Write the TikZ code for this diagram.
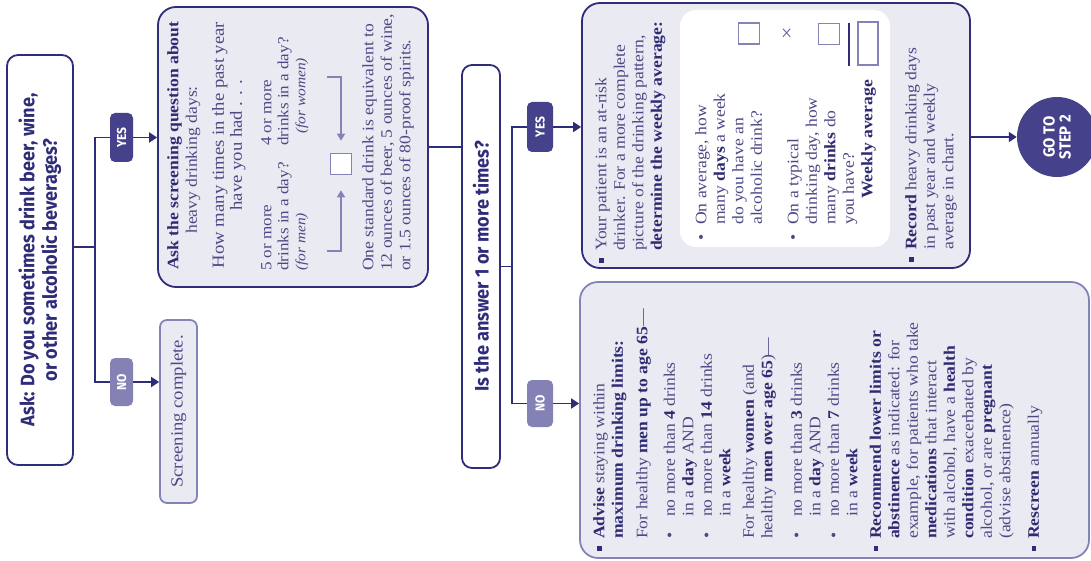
\documentclass[tikz,border=0pt]{standalone}
\usepackage{fontspec}
\setmainfont[FakeStretch=1.1]{Liberation Serif}
\newfontfamily\headfont[FakeStretch=0.93]{Fira Sans}
\usetikzlibrary{arrows.meta,positioning}

\definecolor{navy}{HTML}{2F2C7A}
\definecolor{yesfill}{HTML}{45418A}
\definecolor{nofill}{HTML}{8482B5}
\definecolor{lavender}{HTML}{EAEAF3}
\definecolor{softline}{HTML}{8483B8}
\definecolor{bodyink}{HTML}{4B4985}
\definecolor{boldink}{HTML}{2E2B72}

\newcommand{\bodysize}{\fontsize{16}{18.5}\selectfont}
\newcommand{\hl}[1]{{\bfseries\color{boldink}#1}}
\newcommand{\sqbul}{\makebox[12pt][l]{\color{navy}\rule[2.5pt]{4.5pt}{4.5pt}}}
\newcommand{\dotbul}[1]{\makebox[#1][l]{\textbullet}}
\newcommand{\ind}[1]{\hspace*{#1}}

\begin{document}
\begin{tikzpicture}[x=1pt, y=-1pt,
  every node/.style={rotate=90},
  flowline/.style={draw=navy, line width=1.8pt},
  flowarrow/.style={flowline, -{Triangle[length=8pt,width=10pt]}},
  softarrow/.style={draw=softline, line width=1.6pt, -{Triangle[length=7pt,width=8pt]}},
  question/.style={draw=navy, line width=1.8pt, fill=white, rounded corners=11pt,
    text=navy, align=center, inner sep=0pt},
  panel/.style={draw=navy, line width=1.8pt, fill=lavender, rounded corners=18pt, inner sep=0pt},
  softpanel/.style={panel, draw=softline},
  badge/.style={rounded corners=5pt, inner sep=0pt, text=white,
    font=\headfont\bfseries\fontsize{13}{13}\selectfont},
  copy/.style={inner sep=0pt, align=left, anchor=north west, text=bodyink, font=\bodysize},
  tally/.style={draw=softline, line width=1.6pt, fill=white, minimum width=21pt,
    minimum height=21pt, inner sep=0pt}
]
\useasboundingbox (0,0) rectangle (1091,561);

% boxes
\node[question, minimum width=410pt, minimum height=66pt,
  font=\headfont\bfseries\fontsize{19.5}{22.5}\selectfont] (ask) at (40,260)
  {Ask: Do you sometimes drink beer, wine,\\ or other alcoholic beverages?};
\node[panel, minimum width=280pt, minimum height=270pt] (heavy) at (293,147) {};
\node[softpanel, rounded corners=7pt, minimum width=183pt, minimum height=37pt,
  text=bodyink, font=\fontsize{17}{18}\selectfont] (done) at (178.5,411.5) {Screening complete.};
\node[question, rounded corners=10pt, minimum width=403pt, minimum height=38pt,
  font=\headfont\bfseries\fontsize{19.5}{22.5}\selectfont] (again) at (481,266.5)
  {Is the answer 1 or more times?};
\node[panel, minimum width=265pt, minimum height=388pt] (atrisk) at (776,135.5) {};
\node[softpanel, minimum width=276pt, minimum height=509pt] (limits) at (834.5,420) {};
\node[circle, fill=yesfill, minimum size=80pt, inner sep=0pt, text=white, align=center,
  font=\headfont\bfseries\fontsize{16}{16}\selectfont] (step) at (1057,137) {GO TO\\STEP 2};

% connectors
\coordinate (forkA) at (95,247);
\coordinate (yesA) at (121.5,137.5);
\coordinate (noA) at (121.5,382);
\coordinate (forkD) at (512,266.5);
\coordinate (yesD) at (540,127);
\coordinate (noD) at (540,403.5);

\draw[flowline] ([yshift=13pt]ask.south) -- (forkA);
\draw[flowarrow] (forkA) |- (heavy.north |- yesA);
\draw[flowarrow] (forkA) |- (done.north |- noA);
\draw[flowline] (heavy.south) -- (heavy.south -| again.north);
\draw[flowline] (again.south) -- (forkD);
\draw[flowarrow] (forkD) |- (atrisk.north |- yesD);
\draw[flowarrow] (forkD) |- (limits.north |- noD);
\draw[flowarrow] (atrisk.south |- step) -- (step.north);

\node[badge, fill=yesfill, minimum width=49pt, minimum height=23pt] (yesAbadge) at (yesA) {YES};
\node[badge, fill=nofill, minimum width=48pt, minimum height=23pt] (noAbadge) at (noA) {NO};
\node[badge, fill=yesfill, minimum width=50pt, minimum height=26pt] (yesDbadge) at (yesD) {YES};
\node[badge, fill=nofill, minimum width=47pt, minimum height=26pt] (noDbadge) at (noD) {NO};

% heavy drinking question
\node[copy] (heavyhead) at (167,270)
  {\hl{Ask the screening question about}\\ \ind{36pt}heavy drinking days:};
\node[copy, anchor=north, align=center, font=\fontsize{17}{18}\selectfont] (heavyq) at (212,145)
  {How many times in the past year\\ have you had . . .};
\node[copy, font=\fontsize{15.5}{17}\selectfont] (menq) at (261,271)
  {5 or more\\ drinks in a day?\\ {\itshape\fontsize{14}{16}\selectfont (for men)}};
\node[copy, font=\fontsize{15.5}{17}\selectfont] (womenq) at (261,146)
  {4 or more\\ drinks in a day?\\ \ind{12pt}{\itshape\fontsize{14}{16}\selectfont (for women)}};
\node[tally] (heavycount) at (341,164) {};
\coordinate (menfrom) at (327,251);
\coordinate (womenfrom) at (327,77);
\draw[softarrow, shorten >=15pt] (menfrom) -| (heavycount.west);
\draw[softarrow, shorten >=12pt] (womenfrom) -| (heavycount.east);
\node[copy] (drinkunit) at (362,271)
  {One standard drink is equivalent to\\ 12 ounces of beer, 5 ounces of wine,\\ or 1.5 ounces of 80-proof spirits.};

% at-risk drinker
\node[copy] (atrisknote) at (595,263)
  {\sqbul Your patient is an at-risk\\ \ind{12pt}drinker. For a more complete\\
   \ind{12pt}picture of the drinking pattern,\\ \ind{12pt}\hl{determine the weekly average:}};
\node[fill=white, rounded corners=16pt, minimum width=237pt, minimum height=210pt,
  inner sep=0pt] (tallypanel) at (785,128.5) {};
\node[copy] (askdays) at (695,241)
  {\dotbul{16pt}On average, how\\ \ind{16pt}many \hl{days} a week\\ \ind{16pt}do you have an\\
   \ind{16pt}alcoholic drink?\\[18pt]
   \dotbul{16pt}On a typical\\ \ind{16pt}drinking day, how\\ \ind{16pt}many \hl{drinks} do\\
   \ind{16pt}you have?};
\node[copy, font=\bodysize\bfseries, text=boldink] (weeklylabel) at (861,199) {Weekly average};
\node[tally] (daysbox) at (749,33.5) {};
\node[text=navy!75, inner sep=0pt, font=\fontsize{20}{20}\selectfont] (timessign) at (788,33) {×};
\node[tally] (drinksbox) at (829,34) {};
\node[tally, minimum width=43pt, minimum height=20pt] (weeklybox) at (868,43.5) {};
\draw[navy, line width=1.8pt] (weeklybox.north west) ++(-8,0) -- ++(0,-43);
\node[copy] (recordnote) at (905,262)
  {\sqbul\hl{Record} heavy drinking days\\ \ind{12pt}in past year and weekly\\ \ind{12pt}average in chart.};

% within limits
\node[copy] (limitsnote) at (593,551)
  {\sqbul\hl{Advise} staying within\\ \ind{12pt}\hl{maximum drinking limits:}\\[6pt]
   \ind{12pt}For healthy \hl{men up to age 65}---\\[9pt]
   \ind{12pt}\dotbul{22pt}no more than \hl{4} drinks\\ \ind{34pt}in a \hl{day} AND\\
   \ind{12pt}\dotbul{22pt}no more than \hl{14} drinks\\ \ind{34pt}in a \hl{week}\\[5pt]
   \ind{12pt}For healthy \hl{women} (and\\ \ind{12pt}healthy \hl{men over age 65})---\\[11pt]
   \ind{12pt}\dotbul{22pt}no more than \hl{3} drinks\\ \ind{34pt}in a \hl{day} AND\\
   \ind{12pt}\dotbul{22pt}no more than \hl{7} drinks\\ \ind{34pt}in a \hl{week}\\[5pt]
   \sqbul\hl{Recommend lower limits or}\\ \ind{12pt}\hl{abstinence} as indicated: for\\
   \ind{12pt}example, for patients who take\\ \ind{12pt}\hl{medications} that interact\\
   \ind{12pt}with alcohol, have a \hl{health}\\ \ind{12pt}\hl{condition} exacerbated by\\
   \ind{12pt}alcohol, or are \hl{pregnant}\\ \ind{12pt}(advise abstinence)\\[10pt]
   \sqbul\hl{Rescreen} annually};

\end{tikzpicture}
\end{document}
